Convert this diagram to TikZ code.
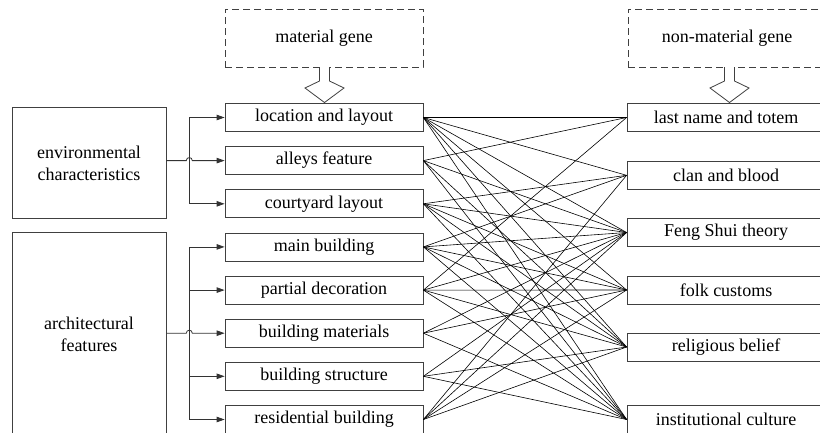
\documentclass[tikz,border=0pt]{standalone}
\usepackage{fontspec}
\setmainfont{Liberation Serif}
\usetikzlibrary{arrows.meta}
\begin{document}
\begin{tikzpicture}[x=1pt,y=-1pt,
  box/.style={draw=black!75, line width=0.8pt, minimum width=198pt, minimum height=28pt, inner sep=0pt, font=\fontsize{18}{22}\selectfont},
  bigbox/.style={draw=black!75, line width=0.8pt, inner sep=0pt},
  gene/.style={draw=black!75, line width=0.8pt, dash pattern=on 7pt off 4pt, minimum width=198pt, minimum height=58pt, inner sep=0pt, font=\fontsize{18}{22}\selectfont},
  txt/.style={align=center, inner sep=0pt, font=\fontsize{18}{22}\selectfont},
  hollow/.style={draw=black!75, line width=0.8pt, fill=white},
  arr/.style={draw=black!80, line width=0.8pt, -{Triangle[length=8pt,width=5.5pt]}},
  bus/.style={draw=black!80, line width=0.8pt},
  link/.style={draw=black, line width=0.6pt}]
\clip (0,0) rectangle (820,432);
% gene boxes
\node[gene] (mg) at (324,38) {material gene};
\node[gene] (nmg) at (727,38) {non-material gene};
% hollow arrows
\draw[hollow] (319.5,67) -- (319.5,81) -- (305,88) -- (324.5,102.5) -- (344,88) -- (329.5,81) -- (329.5,67);
\draw[hollow] (724.5,67) -- (724.5,81) -- (710,88) -- (729.5,102.5) -- (749,88) -- (734.5,81) -- (734.5,67);
% left material boxes
\node[box] (l1) at (324,117.5) {location and layout};
\node[box] (l2) at (324,160.6) {alleys feature};
\node[box] (l3) at (324,203.8) {courtyard layout};
\node[box] (l4) at (324,246.9) {main building};
\node[box] (l5) at (324,290.1) {partial decoration};
\node[box] (l6) at (324,333.2) {building materials};
\node[box] (l7) at (324,376.3) {building structure};
\node[box] (l8) at (324,419.5) {residential building};
% right non-material boxes
\node[box] (r1) at (726,117.5) {last name and totem};
\node[box] (r2) at (726,175.3) {clan and blood};
\node[box] (r3) at (726,232.5) {Feng Shui theory};
\node[box] (r4) at (726,290) {folk customs};
\node[box] (r5) at (726,347) {religious belief};
\node[box] (r6) at (726,419.5) {institutional culture};
% big category boxes
\node[bigbox, minimum width=154pt, minimum height=111pt] (env) at (89,162.5) {};
\node[txt] (envt) at (89,163) {environmental\\characteristics};
\node[bigbox, minimum width=154pt, minimum height=240pt, anchor=north west] (arch) at (12,232) {};
\node[txt] (archt) at (89,334) {architectural\\features};
% bus coordinates
\coordinate (e1) at (189.3,117.5);
\coordinate (e3) at (189.3,203.8);
\coordinate (a1) at (189.3,246.9);
\coordinate (a2) at (189.3,290.1);
\coordinate (a4) at (189.3,376.3);
\coordinate (a5) at (189.3,419.5);
\draw[bus] (e1) -- (e3);
\draw[bus] (a1) -- (a5);
\draw[arr] (e1) -- (l1.west);
\draw[arr] (e3) -- (l3.west);
\draw[arr] (env.east |- l2.west) -- (186.3,160.6) .. controls (186.3,156.6) and (192.3,156.6) .. (192.3,160.6) -- (l2.west);
\draw[arr] (a1) -- (l4.west);
\draw[arr] (a2) -- (l5.west);
\draw[arr] (arch.east |- l6.west) -- (186.3,333.2) .. controls (186.3,329.2) and (192.3,329.2) .. (192.3,333.2) -- (l6.west);
\draw[arr] (a4) -- (l7.west);
\draw[arr] (a5) -- (l8.west);
% links
\foreach \a/\b in {l1/r1,l1/r2,l1/r3,l1/r4,l1/r5,l1/r6,
  l2/r1,l2/r3,l2/r5,l2/r6,
  l3/r2,l3/r3,l3/r4,l3/r5,l3/r6,
  l4/r2,l4/r3,l4/r4,l4/r5,l4/r6,
  l5/r1,l5/r3,l5/r4,l5/r5,l5/r6,
  l6/r3,l6/r4,l6/r6,
  l7/r3,l7/r5,l7/r6,
  l8/r2,l8/r3,l8/r4,l8/r5}
  \draw[link] (\a.east) -- (\b.west);
\end{tikzpicture}
\end{document}
